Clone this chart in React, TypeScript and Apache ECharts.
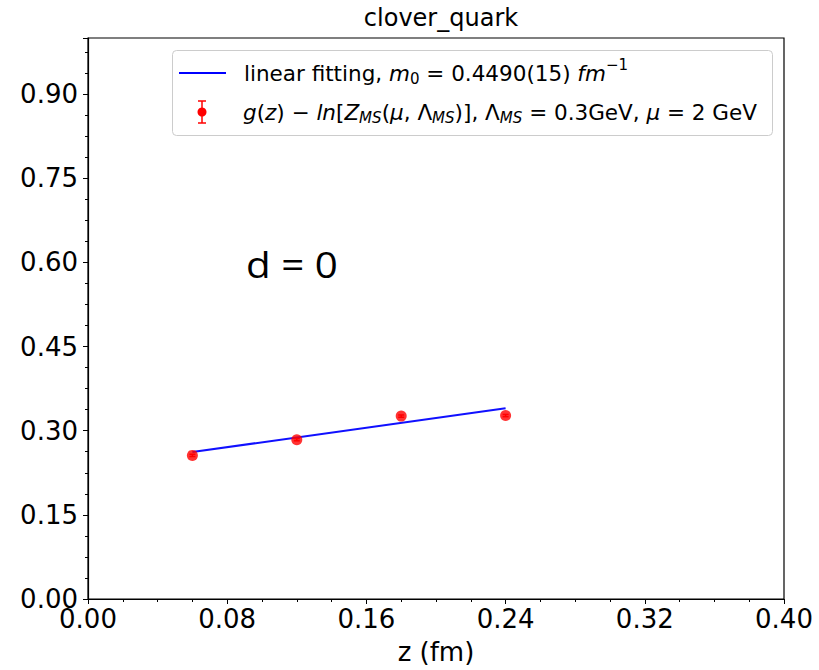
import React, { useEffect, useRef } from "react";
import * as echarts from "echarts";

const zVals = [0.06, 0.12, 0.18, 0.24];
const gVals = [0.256, 0.284, 0.326, 0.327];
const gErr = [0.002, 0.002, 0.002, 0.002];
const fitZ = [0.06, 0.24];
const fitG = [0.262, 0.340];
const xTicks = { min: 0, max: 0.4, interval: 0.08 };
const yTicks = { min: 0, max: 1.0, interval: 0.15 };

const TITLE = "clover_quark";
const X_NAME = "z (fm)";
const ANNOT = "d = 0";

type Frag = { t: string; it?: boolean; sub?: boolean; sup?: boolean };
const legend1: Frag[] = [
  { t: "linear fitting, " },
  { t: "m", it: true },
  { t: "0", sub: true },
  { t: " = 0.4490(15) " },
  { t: "fm", it: true },
  { t: "\u22121", sup: true },
];
const legend2: Frag[] = [
  { t: "g", it: true },
  { t: "(" },
  { t: "z", it: true },
  { t: ")" },
  { t: " \u2212 " },
  { t: "ln", it: true },
  { t: "[" },
  { t: "Z", it: true },
  { t: "MS", it: true, sub: true },
  { t: "(" },
  { t: "\u03bc", it: true },
  { t: ", " },
  { t: "\u039b" },
  { t: "MS", it: true, sub: true },
  { t: ")]" },
  { t: ", " },
  { t: "\u039b" },
  { t: "MS", it: true, sub: true },
  { t: " = 0.3GeV, " },
  { t: "\u03bc", it: true },
  { t: " = 2" },
  { t: " GeV" },
];

const FONT = "DejaVu Sans";

function buildFrags(frags: Frag[], x0: number, yMid: number, fs: number) {
  const canvas = document.createElement("canvas");
  const ctx = canvas.getContext("2d")!;
  let x = x0;
  const out: any[] = [];
  for (const f of frags) {
    const size = f.sub || f.sup ? fs * 0.7 : fs;
    const style = f.it ? "italic" : "normal";
    ctx.font = `${style} ${size}px "${FONT}"`;
    const w = ctx.measureText(f.t).width;
    const dy = f.sub ? fs * 0.28 : f.sup ? -fs * 0.38 : 0;
    out.push({
      type: "text",
      x,
      y: yMid + dy,
      z: 102,
      style: {
        text: f.t,
        fontFamily: FONT,
        fontSize: size,
        fontStyle: style,
        fill: "#000",
        textVerticalAlign: "middle",
        textAlign: "left",
      },
    });
    x += w;
  }
  return out;
}

export default function App() {
  const ref = useRef<HTMLDivElement>(null);
  useEffect(() => {
    if (!ref.current) return;
    const chart = echarts.init(ref.current, null, { renderer: "svg" });
    const lfs = 21.5;
    const graphic: any[] = [
      {
        type: "rect",
        z: 100,
        shape: { x: 172.5, y: 50.5, width: 600, height: 85, r: 4 },
        style: { fill: "rgba(255,255,255,0.8)", stroke: "#cccccc", lineWidth: 1 },
      },
      {
        type: "line",
        z: 101,
        shape: { x1: 179, y1: 73, x2: 226, y2: 73 },
        style: { stroke: "#0000ff", lineWidth: 2 },
      },
      {
        type: "line",
        z: 101,
        shape: { x1: 202, y1: 101, x2: 202, y2: 123 },
        style: { stroke: "#ff0000", lineWidth: 1.5 },
      },
      {
        type: "line",
        z: 101,
        shape: { x1: 198, y1: 101, x2: 206, y2: 101 },
        style: { stroke: "#ff0000", lineWidth: 1.5 },
      },
      {
        type: "line",
        z: 101,
        shape: { x1: 198, y1: 123, x2: 206, y2: 123 },
        style: { stroke: "#ff0000", lineWidth: 1.5 },
      },
      {
        type: "circle",
        z: 101,
        shape: { cx: 202, cy: 112, r: 4.5 },
        style: { fill: "#ff0000" },
      },
      ...buildFrags(legend1, 244, 73, lfs),
      ...buildFrags(legend2, 243, 112, lfs),
      {
        type: "text",
        z: 102,
        x: 246,
        y: 264,
        scaleX: 1.12,
        style: {
          text: ANNOT,
          fontFamily: "Open Sans",
          fontSize: 36,
          fill: "#000",
          textVerticalAlign: "middle",
        },
      },
    ];

    const option: any = {
      animation: false,
      backgroundColor: "#fff",
      title: {
        text: TITLE,
        left: 436,
        textAlign: "center",
        top: 1,
        textStyle: { fontFamily: FONT, fontSize: 24, fontWeight: "normal", color: "#000" },
      },
      grid: {
        left: 88,
        right: 35,
        top: 38,
        bottom: 67,
        show: true,
        borderColor: "#000",
        borderWidth: 1.2,
        backgroundColor: "transparent",
        containLabel: false,
      },
      xAxis: {
        type: "value",
        min: xTicks.min,
        max: xTicks.max,
        interval: xTicks.interval,
        name: X_NAME,
        nameLocation: "middle",
        nameGap: 40,
        nameTextStyle: { fontFamily: FONT, fontSize: 26, color: "#000" },
        axisLine: { lineStyle: { color: "#000", width: 1.2 } },
        axisTick: { show: true, length: 5, lineStyle: { color: "#000" } },
        minorTick: { show: true, splitNumber: 4, length: 3, lineStyle: { color: "#000" } },
        splitLine: { show: false },
        axisLabel: {
          margin: 7,
          fontFamily: FONT,
          fontSize: 26,
          color: "#000",
          formatter: (v: number) => v.toFixed(2),
        },
      },
      yAxis: {
        type: "value",
        min: yTicks.min,
        max: yTicks.max,
        interval: yTicks.interval,
        axisLine: { show: true, lineStyle: { color: "#000", width: 1.2 } },
        axisTick: { show: true, length: 5, lineStyle: { color: "#000" } },
        minorTick: { show: true, splitNumber: 4, length: 3, lineStyle: { color: "#000" } },
        splitLine: { show: false },
        axisLabel: {
          margin: 10,
          fontFamily: FONT,
          fontSize: 26,
          color: "#000",
          showMaxLabel: false,
          formatter: (v: number) => (v > 0.95 ? "" : v.toFixed(2)),
        },
      },
      series: [
        {
          type: "line",
          data: fitZ.map((z, i) => [z, fitG[i]]),
          showSymbol: false,
          lineStyle: { color: "#1010ff", width: 2 },
          z: 2,
        },
        {
          type: "custom",
          data: zVals.map((z, i) => [z, gVals[i], gErr[i]]),
          z: 3,
          renderItem: (params: any, api: any) => {
            const x = api.value(0);
            const y = api.value(1);
            const e = api.value(2);
            const t = api.coord([x, y + e]);
            const b = api.coord([x, y - e]);
            const st = { stroke: "#ff0000", lineWidth: 1.5 };
            return {
              type: "group",
              children: [
                { type: "line", shape: { x1: t[0], y1: t[1], x2: b[0], y2: b[1] }, style: st },
                { type: "line", shape: { x1: t[0] - 3, y1: t[1], x2: t[0] + 3, y2: t[1] }, style: st },
                { type: "line", shape: { x1: b[0] - 3, y1: b[1], x2: b[0] + 3, y2: b[1] }, style: st },
              ],
            };
          },
        },
        {
          type: "scatter",
          data: zVals.map((z, i) => [z, gVals[i]]),
          symbol: "circle",
          symbolSize: 11,
          itemStyle: { color: "#ff0000" },
          z: 4,
        },
      ],
      graphic,
    };
    chart.setOption(option);
    return () => chart.dispose();
  }, []);
  return (
    <div
      ref={ref}
      style={{ position: "fixed", left: 0, top: 0, width: 819, height: 670 }}
    />
  );
}
